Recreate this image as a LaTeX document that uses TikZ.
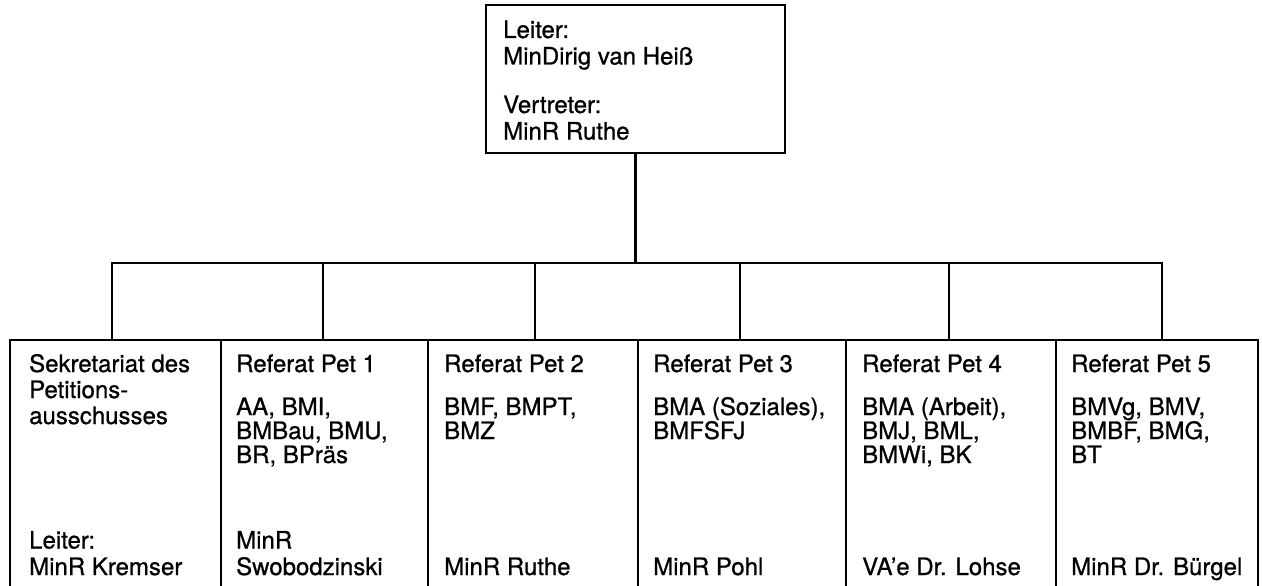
\documentclass[tikz,border=0pt]{standalone}
\usepackage{fontspec}
\setmainfont{TeX Gyre Heros}[FakeBold=0.8]
\begin{document}
\begin{tikzpicture}[x=1pt,y=-1pt,line width=2.4pt,
  box/.style={draw,rectangle,inner sep=0pt},
  txt/.style={anchor=base west,inner sep=0pt,align=left,font=\fontsize{24}{26.5}\selectfont},
  body/.style={txt,font=\fontsize{24}{24}\selectfont}]
\useasboundingbox (0,0) rectangle (1262,586);
% top box
\node[box,minimum width=299pt,minimum height=148pt] (top) at (635.5,79) {};
\node[txt] (t1) at (502,64.5) {Leiter:\\MinDirig van Heiß};
\node[txt] (t2) at (502,139.5) {Vertreter:\\MinR Ruthe};
% bottom boxes
\node[box,minimum width=211pt,minimum height=260pt] (b1) at (115.5,470) {};
\node[box,minimum width=207pt,minimum height=260pt] (b2) at (324.5,470) {};
\node[box,minimum width=210pt,minimum height=260pt] (b3) at (533,470) {};
\node[box,minimum width=208pt,minimum height=260pt] (b4) at (742,470) {};
\node[box,minimum width=210pt,minimum height=260pt] (b5) at (951,470) {};
\node[box,minimum width=202pt,minimum height=260pt] (b6) at (1157,470) {};
% texts
\node[txt,font=\fontsize{24}{26}\selectfont] (h1) at (28,424) {Sekretariat des\\Petitions-\\ausschusses};
\node[txt] (p1) at (28,575) {Leiter:\\MinR Kremser};
\node[txt] (h2) at (235,372) {Referat Pet 1};
\node[body] (c2) at (235,463) {AA, BMI,\\BMBau, BMU,\\BR, BPräs};
\node[txt] (p2) at (235,575) {MinR\\Swobodzinski};
\node[txt] (h3) at (443,372) {Referat Pet 2};
\node[body] (c3) at (443,439) {BMF, BMPT,\\BMZ};
\node[txt] (p3) at (443,575) {MinR Ruthe};
\node[txt] (h4) at (652,372) {Referat Pet 3};
\node[body] (c4) at (652,439) {BMA (Soziales),\\BMFSFJ};
\node[txt] (p4) at (652,575) {MinR Pohl};
\node[txt] (h5) at (861,372) {Referat Pet 4};
\node[body] (c5) at (861,463) {BMA (Arbeit),\\BMJ, BML,\\BMWi, BK};
\node[txt] (p5) at (861,575) {VA’e Dr. Lohse};
\node[txt] (h6) at (1070,372) {Referat Pet 5};
\node[body] (c6) at (1070,463) {BMVg, BMV,\\BMBF, BMG,\\BT};
\node[txt] (p6) at (1070,575) {MinR Dr. Bürgel};
% connectors
\coordinate (bus) at (637,263);
\coordinate (d1) at (112,263);
\coordinate (d2) at (323,263);
\coordinate (d3) at (535,263);
\coordinate (d4) at (740,263);
\coordinate (d5) at (949,263);
\coordinate (d6) at (1162,263);
\draw (top.south) -- (top.south |- bus);
\draw (d1 |- b1.north) -- (d1) -- (d6) -- (d6 |- b6.north);
\foreach \i in {2,3,4,5} \draw (d\i) -- (d\i |- b\i.north);
\end{tikzpicture}
\end{document}
